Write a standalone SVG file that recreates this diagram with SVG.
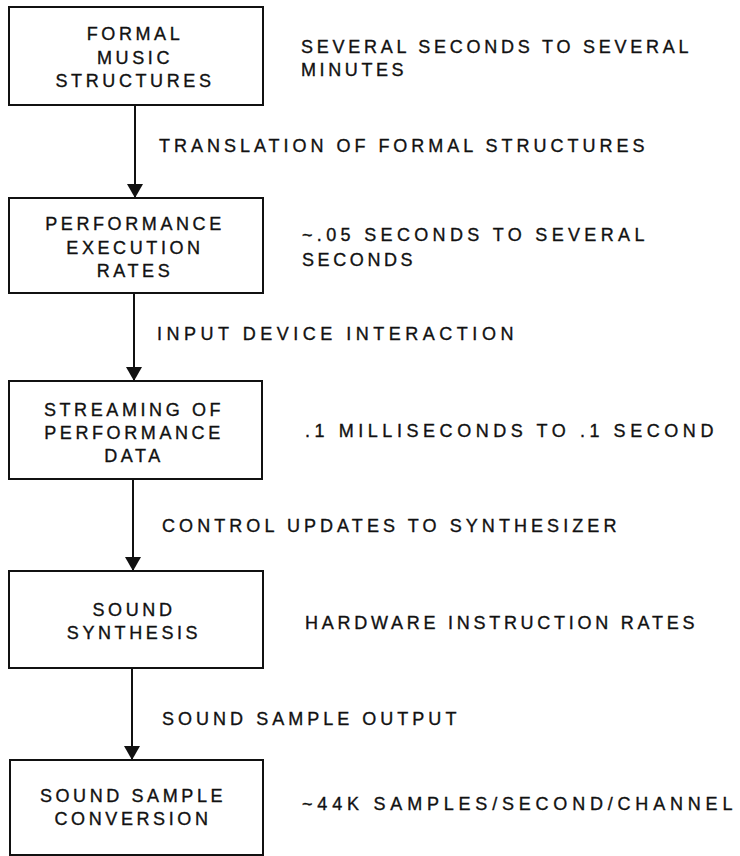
<svg xmlns="http://www.w3.org/2000/svg" width="740" height="856" viewBox="0 0 740 856">
<style>
.box{fill:#fff;stroke:#111;stroke-width:2}
.t{font-family:"Liberation Sans",Arial,sans-serif;font-size:18px;fill:#111;stroke:#111;stroke-width:0.35px;letter-spacing:3.6px}
.c{text-anchor:middle}
.edge{stroke:#111;stroke-width:2;fill:none}
</style>
<defs>
<marker id="ah" markerUnits="userSpaceOnUse" markerWidth="14" markerHeight="16" refX="14" refY="8" orient="auto" viewBox="0 0 14 16">
<path d="M0,0 L14,8 L0,16 z" fill="#111"/>
</marker>
</defs>
<g id="connectors">
<path class="edge" d="M135,105 V198" marker-end="url(#ah)"/>
<path class="edge" d="M134,293 V381" marker-end="url(#ah)"/>
<path class="edge" d="M133,479 V571" marker-end="url(#ah)"/>
<path class="edge" d="M132,668 V760" marker-end="url(#ah)"/>
<text class="t" x="159" y="152" textLength="489" lengthAdjust="spacing">TRANSLATION OF FORMAL STRUCTURES</text>
<text class="t" x="157" y="340" textLength="360" lengthAdjust="spacing">INPUT DEVICE INTERACTION</text>
<text class="t" x="162" y="532" textLength="458" lengthAdjust="spacing">CONTROL UPDATES TO SYNTHESIZER</text>
<text class="t" x="162" y="725" textLength="298" lengthAdjust="spacing">SOUND SAMPLE OUTPUT</text>
</g>
<g id="node1">
<rect class="box" x="9" y="7" width="254" height="98"/>
<text class="t c" x="135" y="40">FORMAL</text>
<text class="t c" x="135" y="64">MUSIC</text>
<text class="t c" x="135" y="87">STRUCTURES</text>
<text class="t" x="301" y="53" textLength="391" lengthAdjust="spacing">SEVERAL SECONDS TO SEVERAL</text>
<text class="t" x="301" y="76">MINUTES</text>
</g>
<g id="node2">
<rect class="box" x="9" y="198" width="254" height="95"/>
<text class="t c" x="135" y="230">PERFORMANCE</text>
<text class="t c" x="135" y="254">EXECUTION</text>
<text class="t c" x="135" y="277">RATES</text>
<text class="t" x="302" y="241" textLength="346" lengthAdjust="spacing">~.05 SECONDS TO SEVERAL</text>
<text class="t" x="302" y="266">SECONDS</text>
</g>
<g id="node3">
<rect class="box" x="9" y="381" width="253" height="98"/>
<text class="t c" x="134" y="416">STREAMING OF</text>
<text class="t c" x="134" y="439">PERFORMANCE</text>
<text class="t c" x="134" y="462">DATA</text>
<text class="t" x="305" y="437" textLength="412" lengthAdjust="spacing">.1 MILLISECONDS TO .1 SECOND</text>
</g>
<g id="node4">
<rect class="box" x="9" y="571" width="254" height="97"/>
<text class="t c" x="134" y="616">SOUND</text>
<text class="t c" x="134" y="639">SYNTHESIS</text>
<text class="t" x="305" y="629" textLength="393" lengthAdjust="spacing">HARDWARE INSTRUCTION RATES</text>
</g>
<g id="node5">
<rect class="box" x="10" y="760" width="253" height="95"/>
<text class="t c" x="133" y="802">SOUND SAMPLE</text>
<text class="t c" x="133" y="825">CONVERSION</text>
<text class="t" x="302" y="810" textLength="434" lengthAdjust="spacing">~44K SAMPLES/SECOND/CHANNEL</text>
</g>
</svg>
